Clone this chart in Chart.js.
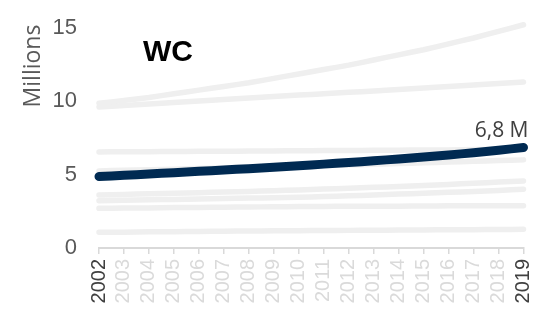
<!DOCTYPE html>
<html>
<head>
<meta charset="utf-8">
<script src="https://cdn.jsdelivr.net/npm/chart.js@4/dist/chart.umd.min.js"></script>
<style>
  html, body { margin: 0; padding: 0; background: #ffffff; }
  #wrap { width: 543px; height: 309px; }
</style>
</head>
<body>
<div id="wrap"><canvas id="c" width="543" height="309"></canvas></div>
<script>
const years = ['2002','2003','2004','2005','2006','2007','2008','2009','2010','2011','2012','2013','2014','2015','2016','2017','2018','2019'];
const yTicks = [0, 5, 10, 15];
const highlightName = 'WC';
const axisTitle = 'Millions';

const gp  = [9.85, 10.05, 10.25, 10.5, 10.75, 11.0, 11.25, 11.55, 11.85, 12.15, 12.45, 12.8, 13.15, 13.5, 13.9, 14.3, 14.75, 15.2];
const kzn = [9.6, 9.71, 9.81, 9.91, 10.01, 10.11, 10.21, 10.31, 10.41, 10.5, 10.6, 10.69, 10.79, 10.89, 10.99, 11.1, 11.2, 11.31];
const ec  = [6.54, 6.55, 6.56, 6.57, 6.58, 6.59, 6.6, 6.61, 6.62, 6.63, 6.64, 6.65, 6.66, 6.67, 6.68, 6.7, 6.71, 6.72];
const lp  = [5.25, 5.29, 5.33, 5.37, 5.41, 5.45, 5.49, 5.53, 5.57, 5.61, 5.65, 5.7, 5.75, 5.8, 5.85, 5.9, 5.95, 6.0];
const mp  = [3.61, 3.65, 3.69, 3.73, 3.77, 3.81, 3.85, 3.9, 3.95, 4.01, 4.07, 4.13, 4.19, 4.26, 4.33, 4.41, 4.49, 4.57];
const nw  = [3.22, 3.25, 3.28, 3.31, 3.34, 3.37, 3.4, 3.42, 3.45, 3.5, 3.55, 3.61, 3.67, 3.73, 3.79, 3.85, 3.92, 4.0];
const fs  = [2.7, 2.72, 2.73, 2.75, 2.76, 2.78, 2.79, 2.81, 2.82, 2.83, 2.84, 2.85, 2.85, 2.86, 2.87, 2.87, 2.88, 2.88];
const nc  = [1.07, 1.08, 1.1, 1.11, 1.13, 1.14, 1.16, 1.17, 1.18, 1.19, 1.2, 1.21, 1.22, 1.23, 1.24, 1.25, 1.26, 1.27];
const wc  = [4.87, 4.95, 5.04, 5.13, 5.22, 5.31, 5.40, 5.50, 5.60, 5.71, 5.82, 5.94, 6.06, 6.19, 6.33, 6.49, 6.66, 6.84];

const others = [['GP', gp], ['KZN', kzn], ['EC', ec], ['LP', lp], ['MP', mp], ['NW', nw], ['FS', fs], ['NC', nc]];

const GREY = '#efefef';
const NAVY = '#002a52';

const datasets = others.map(([name, vals]) => ({
  label: name,
  data: vals,
  borderColor: GREY,
  borderWidth: 5.5,
  borderCapStyle: 'round',
  borderJoinStyle: 'round',
  pointRadius: 0,
  tension: 0.2,
  clip: false,
  order: 2
}));
datasets.push({
  label: highlightName,
  data: wc,
  borderColor: NAVY,
  borderWidth: 9,
  borderCapStyle: 'round',
  borderJoinStyle: 'round',
  pointRadius: 0,
  tension: 0.2,
  clip: false,
  order: 1
});

const textPlugin = {
  id: 'texts',
  afterDraw(chart) {
    const ctx = chart.ctx;
    const xs = chart.scales.x, ys = chart.scales.y;
    ctx.save();
    ctx.save();
    ctx.translate(33, 66);
    ctx.rotate(-Math.PI / 2);
    ctx.font = '23px "Open Sans"';
    ctx.fillStyle = '#595959';
    ctx.textAlign = 'center';
    ctx.textBaseline = 'middle';
    ctx.fillText(axisTitle, 0, 0);
    ctx.restore();
    ctx.font = 'bold 30px "Liberation Sans", Arial, sans-serif';
    ctx.fillStyle = '#000000';
    ctx.textAlign = 'left';
    ctx.textBaseline = 'alphabetic';
    ctx.fillText(highlightName, 143, 61);
    const last = wc.length - 1;
    const lx = xs.getPixelForValue(last);
    const ly = ys.getPixelForValue(wc[last]);
    ctx.font = '21px "Open Sans"';
    ctx.fillStyle = '#404040';
    ctx.textAlign = 'right';
    ctx.fillText(wc[last].toFixed(1).replace('.', ',') + ' M', lx + 5, ly - 11);
    ctx.restore();
  }
};

new Chart(document.getElementById('c'), {
  type: 'line',
  data: { labels: years, datasets },
  options: {
    responsive: false,
    animation: false,
    layout: { padding: { top: 13, right: 19.5, left: 0, bottom: 0 } },
    plugins: { legend: { display: false }, tooltip: { enabled: false }, title: { display: false } },
    scales: {
      x: {
        type: 'category',
        offset: false,
        border: { display: true, color: '#d9d9d9', width: 2 },
        grid: { display: true, drawOnChartArea: false, drawTicks: true, tickLength: 6, color: '#d9d9d9', lineWidth: 1.5 },
        ticks: {
          autoSkip: false,
          maxRotation: 90,
          minRotation: 90,
          padding: 5,
          font: { family: '"Liberation Sans", Arial, sans-serif', size: 20 },
          color: (c) => (c.index === 0 || c.index === years.length - 1) ? '#404040' : '#dadada'
        },
        afterFit(s) { s.height = 61; s.paddingLeft = 0; s.paddingRight = 0; s.paddingTop = 0; s.paddingBottom = 0; }
      },
      y: {
        min: 0,
        max: 16,
        border: { display: false },
        grid: { display: false, drawTicks: false },
        afterBuildTicks(s) { s.ticks = yTicks.map(v => ({ value: v })); },
        ticks: {
          padding: 22,
          font: { family: '"Liberation Sans", Arial, sans-serif', size: 22 },
          color: '#595959'
        },
        afterFit(s) { s.width = 99; s.paddingLeft = 0; s.paddingRight = 0; s.paddingTop = 0; s.paddingBottom = 0; }
      }
    }
  },
  plugins: [textPlugin]
});
</script>
</body>
</html>
